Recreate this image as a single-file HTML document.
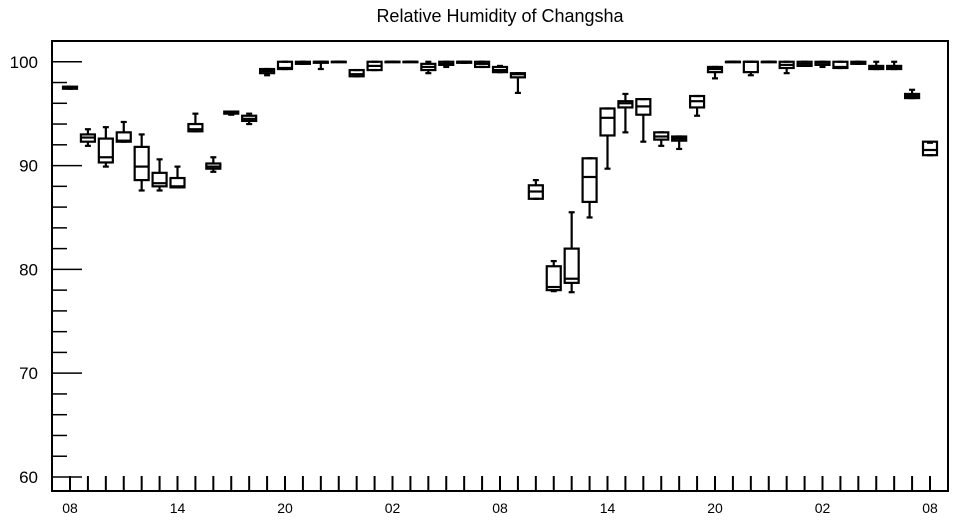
<!DOCTYPE html>
<html><head><meta charset="utf-8"><style>
body{margin:0;background:#fff;}
svg{display:block;font-family:"Liberation Sans",sans-serif;}
</style></head><body>
<svg id="chart" width="957" height="520" viewBox="0 0 957 520">
<text x="500" y="22" text-anchor="middle" font-size="18">Relative Humidity of Changsha</text>
<rect x="52" y="41" width="896" height="450" fill="none" stroke="#000" stroke-width="2"/>
<g id="axes"></g>
<g id="boxes"></g>
</svg>
<script>
const hourLabels = ["08","14","20","02","08","14","20","02","08"];
const yTickLabels = [60,70,80,90,100];
const mins = [97.4,91.9,89.9,92.3,87.6,87.6,87.9,93.3,89.4,94.9,94.0,98.7,99.3,99.8,99.3,100,98.6,99.2,100,100,98.9,99.5,99.9,99.5,99.0,97.0,86.8,77.9,77.8,85.0,89.7,93.2,92.3,91.9,91.6,94.8,98.4,100,98.7,100,98.9,99.6,99.5,99.4,99.8,99.3,99.3,96.5,91.0];
const q1s = [97.4,92.3,90.3,92.3,88.6,88.0,87.9,93.3,89.7,95.0,94.3,98.9,99.3,99.8,99.9,100,98.6,99.2,100,100,99.2,99.7,99.9,99.5,99.0,98.5,86.8,78.0,78.7,86.5,92.9,95.6,94.9,92.5,92.4,95.6,99.0,100,99.0,100,99.4,99.6,99.7,99.4,99.8,99.3,99.3,96.5,91.0];
const medians = [97.5,92.7,90.8,92.4,89.9,88.3,88.0,93.5,89.9,95.1,94.5,99.1,99.4,99.9,100,100,98.8,99.6,100,100,99.5,99.8,100,99.8,99.2,98.8,87.5,78.3,79.1,88.9,94.6,96.0,95.7,92.8,92.6,96.2,99.3,100,100,100,99.7,99.8,99.9,99.5,99.9,99.4,99.4,96.7,91.5];
const q3s = [97.6,93.0,92.6,93.2,91.8,89.3,88.8,94.0,90.2,95.2,94.8,99.3,100,100,100,100,99.2,100,100,100,99.8,100,100,100,99.5,98.9,88.1,80.3,82.0,90.7,95.5,96.2,96.4,93.2,92.8,96.7,99.5,100,100,100,100,100,100,100,100,99.6,99.6,96.9,92.3];
const maxs = [97.6,93.5,93.7,94.2,93.0,90.6,89.9,95.0,90.8,95.2,95.0,99.3,100,100,100,100,99.2,100,100,100,100,100,100,100,99.6,98.9,88.6,80.8,85.5,90.7,95.5,96.9,96.4,93.2,92.8,96.7,99.5,100,100,100,100,100,100,100,100,100,100,97.3,92.2];

const NS='http://www.w3.org/2000/svg';
const X0=70, DX=17.9167, YMIN=58.65, YMAX=102.0, TOP=41, BOT=491;
function xs(i){return X0+DX*i;}
function ys(v){return BOT-(v-YMIN)/(YMAX-YMIN)*(BOT-TOP);}
function mk(tag,attrs,parent){const e=document.createElementNS(NS,tag);for(const k in attrs)e.setAttribute(k,attrs[k]);parent.appendChild(e);return e;}
const axes=document.getElementById('axes');
const boxes=document.getElementById('boxes');

// y ticks
for(let v=60;v<=102;v+=2){
  const major=(v%10===0);
  const t=mk('line',{x1:52,x2:major?82:67,y1:ys(v),y2:ys(v),stroke:'#000','stroke-width':1.5},axes);
  
  
}
yTickLabels.forEach(v=>{
  const t=mk('text',{x:38,y:ys(v)+6,'text-anchor':'end','font-size':17},axes);
  t.textContent=v;
  
  
});
// x ticks
for(let i=0;i<mins.length;i++){
  const t=mk('line',{x1:xs(i),x2:xs(i),y1:BOT,y2:BOT-15,stroke:'#000','stroke-width':2},axes);
  
  
}
hourLabels.forEach((l,k)=>{
  const t=mk('text',{x:xs(k*6),y:513,'text-anchor':'middle','font-size':14},axes);
  t.textContent=l;
  
  
});
// boxes
for(let i=0;i<mins.length;i++){
  const g=mk('g',{stroke:'#000','stroke-width':2.2,fill:'none'},boxes);
  
  
  const x=xs(i), hw=7;
  const yq1=ys(q1s[i]), yq3=ys(q3s[i]);
  mk('line',{x1:x,x2:x,y1:ys(maxs[i]),y2:yq3},g);
  mk('line',{x1:x,x2:x,y1:yq1,y2:ys(mins[i])},g);
  mk('line',{x1:x-3,x2:x+3,y1:ys(maxs[i]),y2:ys(maxs[i])},g);
  mk('line',{x1:x-3,x2:x+3,y1:ys(mins[i]),y2:ys(mins[i])},g);
  mk('rect',{x:x-hw,y:yq3,width:2*hw,height:Math.max(yq1-yq3,0.5)},g);
  mk('line',{x1:x-hw,x2:x+hw,y1:ys(medians[i]),y2:ys(medians[i])},g);
}
</script>
</body></html>
